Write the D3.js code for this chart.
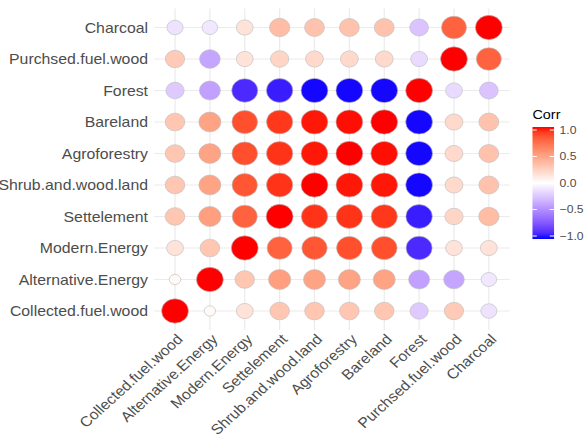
<!DOCTYPE html>
<html>
<head>
<meta charset="utf-8">
<script src="https://cdn.jsdelivr.net/npm/d3@7"></script>
<style>
  body { margin: 0; background: #fff; }
  text { font-family: "Liberation Sans", Arial, sans-serif; }
</style>
</head>
<body>
<div class="corrplot"></div>
<script>
// variables, in axis order (x left->right, y bottom->top)
var vars = ["Collected.fuel.wood", "Alternative.Energy", "Modern.Energy", "Settelement",
            "Shrub.and.wood.land", "Agroforestry", "Bareland", "Forest",
            "Purchsed.fuel.wood", "Charcoal"];

// correlation rows, same order as vars
var rowCollected   = [1, 0.03, 0.15, 0.30, 0.30, 0.30, 0.30, -0.22, 0.28, -0.12];
var rowAlternative = [0.03, 1, 0.30, 0.50, 0.48, 0.48, 0.48, -0.40, -0.38, -0.10];
var rowModern      = [0.15, 0.30, 1, 0.78, 0.82, 0.85, 0.85, -0.90, 0.15, 0.15];
var rowSettelement = [0.30, 0.50, 0.78, 1, 0.93, 0.93, 0.92, -0.94, 0.22, 0.35];
var rowShrub       = [0.30, 0.48, 0.82, 0.93, 1, 0.98, 0.98, -0.99, 0.20, 0.32];
var rowAgro        = [0.30, 0.48, 0.85, 0.93, 0.98, 1, 0.99, -0.99, 0.20, 0.32];
var rowBareland    = [0.30, 0.48, 0.85, 0.92, 0.98, 0.99, 1, -0.99, 0.20, 0.32];
var rowForest      = [-0.22, -0.40, -0.90, -0.94, -0.99, -0.99, -0.99, 1, -0.15, -0.25];
var rowPurchsed    = [0.28, -0.38, 0.15, 0.22, 0.20, 0.20, 0.20, -0.15, 1, 0.78];
var rowCharcoal    = [-0.12, -0.10, 0.15, 0.35, 0.32, 0.32, 0.32, -0.25, 0.78, 1];

var corrRows = [rowCollected, rowAlternative, rowModern, rowSettelement, rowShrub,
                rowAgro, rowBareland, rowForest, rowPurchsed, rowCharcoal];

var legendTicks = [1.0, 0.5, 0.0, -0.5, -1.0];

// the picture is stretched horizontally, so draw square and scale x
var sx = 1.107;
var W = 584, H = 436;

var cells = [];
corrRows.forEach(function(row, i) {
  row.forEach(function(v, j) {
    cells.push({ xv: vars[j], yv: vars[i], value: v, abs: Math.abs(v) });
  });
});

var step = 31.5;
var x = d3.scalePoint().domain(vars).range([158.1, 158.1 + 9 * step]);
var y = d3.scalePoint().domain(vars).range([311, 311 - 9 * step]);
var pad = 0.6 * step;
var panel = { left: 158.1 - pad, right: 158.1 + 9 * step + pad,
              top: 311 - 9 * step - pad, bottom: 311 + pad };

var fill = d3.scaleLinear()
  .domain([-1, 0, 1])
  .range(["blue", "white", "red"])
  .interpolate(d3.interpolateLab);

var absExt = d3.extent(cells, function(d) { return d.abs; });
var sizeScale = function(a) {
  var t = (a - absExt[0]) / (absExt[1] - absExt[0]);
  return 4 + 6 * Math.sqrt(t);
};

var svg = d3.select(".corrplot").append("svg")
  .attr("width", W)
  .attr("height", H);

svg.append("rect").attr("width", W).attr("height", H).attr("fill", "#fff");

var chart = svg.append("g")
  .attr("transform", "scale(" + sx + ",1)");

// grid
chart.append("g").selectAll("line.v")
  .data(vars).enter().append("line")
  .attr("x1", function(d) { return x(d); })
  .attr("x2", function(d) { return x(d); })
  .attr("y1", panel.top).attr("y2", panel.bottom)
  .attr("stroke", "#ebebeb").attr("stroke-width", 1.1);

chart.append("g").selectAll("line.h")
  .data(vars).enter().append("line")
  .attr("y1", function(d) { return y(d); })
  .attr("y2", function(d) { return y(d); })
  .attr("x1", panel.left).attr("x2", panel.right)
  .attr("stroke", "#ebebeb").attr("stroke-width", 1.1);

// circles
chart.append("g").selectAll("circle")
  .data(cells).enter().append("circle")
  .attr("cx", function(d) { return x(d.xv); })
  .attr("cy", function(d) { return y(d.yv); })
  .attr("r", function(d) { return (2.33 * sizeScale(d.abs) + 1.0) / 2; })
  .attr("fill", function(d) { return fill(d.value); })
  .attr("stroke", "#bebebe")
  .attr("stroke-width", 0.6);

// y axis labels
var yAxis = d3.axisLeft(y).tickSize(0).tickPadding(5.5);
var gy = chart.append("g")
  .attr("transform", "translate(" + (panel.left) + ",0)")
  .call(yAxis);
gy.select(".domain").remove();
gy.selectAll("text")
  .style("font-family", "'Liberation Sans', Arial, sans-serif")
  .style("font-size", "14.3px")
  .attr("fill", "#4d4d4d");

// x axis labels, rotated 45
var xAxis = d3.axisBottom(x).tickSize(0).tickPadding(0);
var gx = chart.append("g")
  .attr("transform", "translate(0," + (panel.bottom + 3) + ")")
  .call(xAxis);
gx.select(".domain").remove();
gx.selectAll("text")
  .style("font-family", "'Liberation Sans', Arial, sans-serif")
  .style("font-size", "14.3px")
  .attr("fill", "#4d4d4d")
  .attr("y", 0)
  .attr("x", 0)
  .attr("dy", "0.72em")
  .attr("transform", "rotate(-45)")
  .style("text-anchor", "end");

// legend
var lg = chart.append("g");
var barX = 481, barW = 19.5, barTop = 127, barBot = 239;

var grad = svg.append("defs").append("linearGradient")
  .attr("id", "corrgrad")
  .attr("x1", 0).attr("y1", 1).attr("x2", 0).attr("y2", 0);
d3.range(0, 21).forEach(function(k) {
  var v = -1 + k * 0.1;
  grad.append("stop")
    .attr("offset", (k / 20 * 100) + "%")
    .attr("stop-color", fill(v));
});

lg.append("text")
  .attr("x", barX)
  .attr("y", barTop - 8)
  .style("font-size", "13px")
  .attr("fill", "#000")
  .text("Corr");

lg.append("rect")
  .attr("x", barX).attr("y", barTop)
  .attr("width", barW).attr("height", barBot - barTop)
  .attr("fill", "url(#corrgrad)");

var ly = d3.scaleLinear().domain([-1, 1]).range([barBot - 3, barTop + 3]);

lg.selectAll("line.tl")
  .data(legendTicks).enter().append("line")
  .attr("x1", barX).attr("x2", barX + barW / 5)
  .attr("y1", function(d) { return ly(d); })
  .attr("y2", function(d) { return ly(d); })
  .attr("stroke", "#fff").attr("stroke-width", 1);

lg.selectAll("line.tr")
  .data(legendTicks).enter().append("line")
  .attr("x1", barX + barW).attr("x2", barX + barW - barW / 5)
  .attr("y1", function(d) { return ly(d); })
  .attr("y2", function(d) { return ly(d); })
  .attr("stroke", "#fff").attr("stroke-width", 1);

lg.selectAll("text.lab")
  .data(legendTicks).enter().append("text")
  .attr("x", barX + barW + 5)
  .attr("y", function(d) { return ly(d); })
  .attr("dy", "0.35em")
  .style("font-size", "11px")
  .attr("fill", "#4d4d4d")
  .text(function(d) { return d3.format(".1f")(d); });
</script>
</body>
</html>
